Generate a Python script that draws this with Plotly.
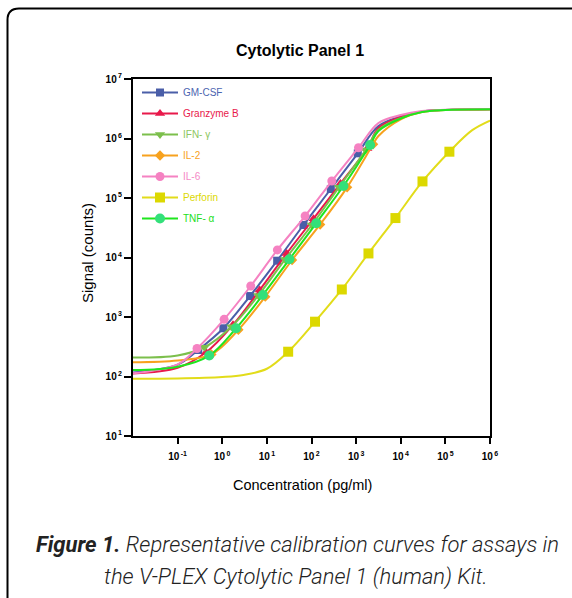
import plotly.graph_objects as go

# ---------------- data ----------------
series_names = ["GM-CSF", "Granzyme B", "IFN- γ", "IL-2", "IL-6", "Perforin", "TNF- α"]

# measured calibrator points (concentration pg/ml, signal counts)
gmcsf_x = [0.29, 1.06, 4.2, 17, 66, 271, 1090]
gmcsf_y = [279, 646, 2250, 8840, 35200, 141600, 564000]
granz_x = [0.434, 1.74, 6.9, 27.8, 111, 445, 1780]
granz_y = [255, 740, 2840, 11700, 45000, 175000, 680000]
ifng_x = [0.40, 1.6, 6.4, 25.6, 102, 410, 1640]
ifng_y = [310, 687, 2300, 9300, 35200, 151000, 641000]
il2_x = [0.57, 2.3, 9.2, 36.7, 156, 628, 2400]
il2_y = [235, 610, 2200, 9080, 35900, 151000, 800000]
il6_x = [0.272, 1.10, 4.35, 17.2, 72, 285, 1130]
il6_y = [296, 914, 3320, 13400, 49800, 193000, 700000]
perf_x = [30, 120, 478, 1890, 7600, 30700, 123000]
perf_y = [261, 834, 2900, 11700, 46000, 190000, 600000]
tnfa_x = [0.51, 2.04, 8.1, 32, 127, 519, 2060]
tnfa_y = [225, 646, 2340, 9330, 37600, 159000, 778000]

# fitted-curve knots (tails beyond the calibrators)
gmcsf_lo_x = [0.01, 0.1];  gmcsf_lo_y = [117, 158]
gmcsf_hi_x = [3162, 10000, 30000, 100000, 1000000]; gmcsf_hi_y = [1.62e6, 2.35e6, 2.85e6, 3.02e6, 3.1e6]
granz_lo_x = [0.01, 0.1];  granz_lo_y = [112, 140]
granz_hi_x = [3162, 10000, 30000, 100000, 1000000]; granz_hi_y = [1.5e6, 2.3e6, 2.83e6, 3.02e6, 3.1e6]
ifng_lo_x = [0.01, 0.1];   ifng_lo_y = [208, 226]
ifng_hi_x = [3162, 10000, 30000, 100000, 1000000]; ifng_hi_y = [1.4e6, 2.2e6, 2.8e6, 3.01e6, 3.1e6]
il2_lo_x = [0.01, 0.1];    il2_lo_y = [174, 186]
il2_hi_x = [3162, 10000, 30000, 100000, 1000000]; il2_hi_y = [1.1e6, 2.1e6, 2.78e6, 3.0e6, 3.1e6]
il6_lo_x = [0.01, 0.1];    il6_lo_y = [113, 160]
il6_hi_x = [3162, 10000, 30000, 100000, 1000000]; il6_hi_y = [1.82e6, 2.48e6, 2.9e6, 3.04e6, 3.12e6]
perf_lo_x = [0.01, 0.1, 1, 3, 10];  perf_lo_y = [92, 93, 98, 106, 135]
perf_hi_x = [400000, 1000000];   perf_hi_y = [1.38e6, 2.0e6]
tnfa_lo_x = [0.01, 0.1];   tnfa_lo_y = [128, 146]
tnfa_hi_x = [3162, 10000, 30000, 100000, 1000000]; tnfa_hi_y = [1.34e6, 2.17e6, 2.79e6, 3.01e6, 3.1e6]

x_tick_vals = [0.1, 1, 10, 100, 1000, 10000, 100000, 1000000]
x_tick_exps = ["-1", "0", "1", "2", "3", "4", "5", "6"]
y_tick_vals = [10, 100, 1000, 10000, 100000, 1000000, 10000000]
y_tick_exps = ["1", "2", "3", "4", "5", "6", "7"]

points = [(gmcsf_x, gmcsf_y), (granz_x, granz_y), (ifng_x, ifng_y), (il2_x, il2_y),
          (il6_x, il6_y), (perf_x, perf_y), (tnfa_x, tnfa_y)]
lows = [(gmcsf_lo_x, gmcsf_lo_y), (granz_lo_x, granz_lo_y), (ifng_lo_x, ifng_lo_y), (il2_lo_x, il2_lo_y),
        (il6_lo_x, il6_lo_y), (perf_lo_x, perf_lo_y), (tnfa_lo_x, tnfa_lo_y)]
highs = [(gmcsf_hi_x, gmcsf_hi_y), (granz_hi_x, granz_hi_y), (ifng_hi_x, ifng_hi_y), (il2_hi_x, il2_hi_y),
         (il6_hi_x, il6_hi_y), (perf_hi_x, perf_hi_y), (tnfa_hi_x, tnfa_hi_y)]

# ---------------- styles ----------------
line_colors = ["#4a5ea8", "#e8194b", "#7cbf4c", "#f7a21e", "#f582c2", "#e2dc1a", "#1ee61e"]
marker_colors = ["#4a5ea8", "#e8194b", "#7cbf4c", "#f7a21e", "#f582c2", "#dcd800", "#33e07a"]
text_colors = ["#4b64b0", "#e8194b", "#8cc660", "#f7a21e", "#f58ac6", "#dcd800", "#22e022"]
symbols = ["square", "triangle-up", "triangle-down", "diamond", "circle", "square", "circle"]
msizes = [8, 9, 9, 8, 9, 10, 10]

fig = go.Figure()

for i, name in enumerate(series_names):
    px_, py_ = points[i]
    lx, ly = lows[i]
    hx, hy = highs[i]
    cx = list(lx) + list(px_) + list(hx)
    cy = list(ly) + list(py_) + list(hy)
    fig.add_trace(go.Scatter(
        x=cx, y=cy, mode="lines",
        line=dict(color=line_colors[i], width=2, shape="spline", smoothing=1.0),
        showlegend=False, hoverinfo="skip"))
    fig.add_trace(go.Scatter(
        x=px_, y=py_, mode="markers",
        marker=dict(symbol=symbols[i], size=msizes[i], color=marker_colors[i]),
        showlegend=False, name=name))
    # legend entry
    fig.add_trace(go.Scatter(
        x=[None], y=[None], mode="lines+markers",
        line=dict(color=line_colors[i], width=2),
        marker=dict(symbol=symbols[i], size=msizes[i], color=marker_colors[i]),
        name=f"<span style='color:{text_colors[i]}'>{name}</span>",
        legendgroup=f"g{i}", showlegend=True))

# ---------------- layout ----------------
W, H = 572, 598
L, R, T, B = 133, 490, 79, 436   # plot area in pixels


def fx(px):
    return (px - L) / (R - L)


def fy(py):
    return (B - py) / (B - T)


BASE_FONT = "Liberation Sans, Arial, sans-serif"
CAPTION_FONT = "Roboto, Liberation Sans, Arial, sans-serif"

axis_common = dict(
    type="log", showgrid=False, zeroline=False,
    showline=True, linecolor="black", linewidth=2, mirror=True,
    ticks="outside", tickcolor="black", tickwidth=2,
    tickfont=dict(family=BASE_FONT, size=10, color="black"),
)

fig.update_layout(
    width=W, height=H,
    margin=dict(l=L, r=W - R, t=T, b=H - B),
    paper_bgcolor="white", plot_bgcolor="white",
    xaxis=dict(range=[-2, 6], tickvals=x_tick_vals,
               ticktext=[f"<b>10<sup>\u2009{e}</sup></b>" for e in x_tick_exps],
               ticklen=6, ticklabelstandoff=4, **axis_common),
    yaxis=dict(range=[1, 7], tickvals=y_tick_vals,
               ticktext=[f"<b>10<sup>\u2009{e}</sup></b>" for e in y_tick_exps],
               ticklen=7, **axis_common),
    legend=dict(x=fx(137), y=fy(78), xanchor="left", yanchor="top",
                bgcolor="rgba(0,0,0,0)", borderwidth=0,
                font=dict(family=BASE_FONT, size=10),
                tracegroupgap=2, itemwidth=36),
    showlegend=True,
)


def ann(text, px, py, font, **kw):
    return dict(text=text, x=fx(px), y=fy(py), xref="paper", yref="paper",
                xanchor="center", yanchor="middle", showarrow=False, font=font, **kw)


annotations = [
    ann("<b>Cytolytic Panel 1</b>", 300, 50, dict(family=BASE_FONT, size=16, color="black")),
    ann("Signal (counts)", 87, 253, dict(family=BASE_FONT, size=15, color="black"), textangle=-90),
    ann("Concentration (pg/ml)", 302, 485, dict(family=BASE_FONT, size=14.5, color="black")),
    ann("<b><i>Figure 1.</i></b><i> Representative calibration curves for assays in</i>", 297, 544,
        dict(family=CAPTION_FONT, size=22, color="#222", weight=300)),
    ann("<i>the V-PLEX Cytolytic Panel 1 (human) Kit.</i>", 296, 577,
        dict(family=CAPTION_FONT, size=22, color="#222", weight=300)),
]
fig.update_layout(annotations=annotations)

frame_path = (f"M {fx(7.5)},{fy(605)} L {fx(7.5)},{fy(20)} "
              f"Q {fx(7.5)},{fy(8.5)} {fx(19)},{fy(8.5)} L {fx(590)},{fy(8.5)}")
fig.add_shape(type="path", path=frame_path, xref="paper", yref="paper",
              line=dict(color="black", width=2), layer="above")

fig.write_html(
    "out.html",
    config={"displayModeBar": False},
    post_script="document.body.style.margin='0';document.body.style.overflow='hidden';",
)
